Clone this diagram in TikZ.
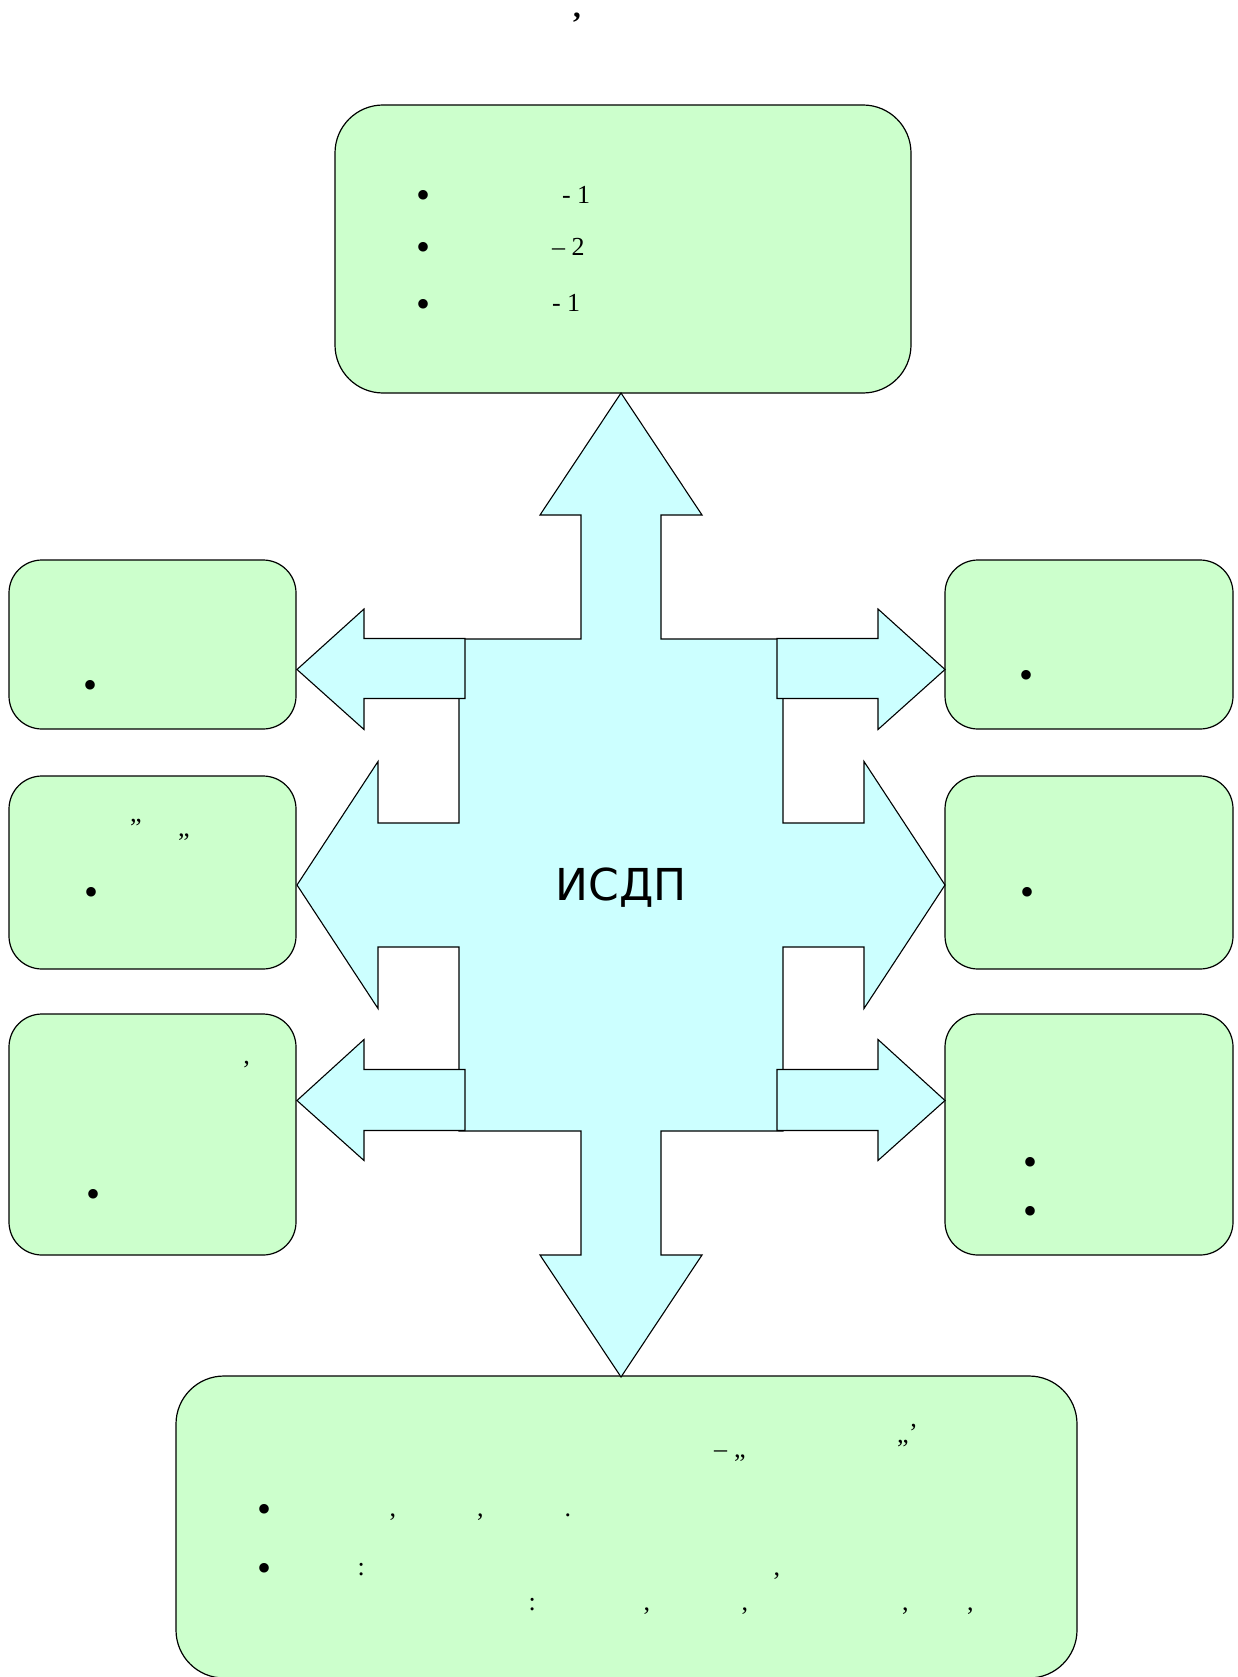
\documentclass[tikz,border=0pt]{standalone}
\usepackage{fontspec}
\setmainfont{Liberation Serif}
\newfontfamily\dejavu{DejaVu Sans}
\definecolor{boxgreen}{HTML}{CCFFCC}
\definecolor{arrowcyan}{HTML}{CCFFFF}
\begin{document}
\begin{tikzpicture}[x=1pt,y=-1pt,
  gbox/.style={draw=black,line width=1.2pt,fill=boxgreen,rectangle,inner sep=0pt},
  arrowshape/.style={draw=black,line width=1.1pt,fill=arrowcyan,line join=miter},
  txt/.style={inner sep=0pt,outer sep=0pt,anchor=base west,font=\fontsize{26}{30}\selectfont},
  bul/.style={inner sep=0pt,outer sep=0pt,anchor=base,font=\fontsize{40}{44}\selectfont}]
\useasboundingbox (0,0) rectangle (1237,1677);
\fill[white] (0,0) rectangle (1237,1677);

% boxes
\node[gbox,rounded corners=48pt,minimum width=576pt,minimum height=288pt] (top) at (623,249) {};
\node[gbox,rounded corners=33pt,minimum width=287pt,minimum height=169pt] (l1) at (152.5,644.5) {};
\node[gbox,rounded corners=33pt,minimum width=287pt,minimum height=193pt] (l2) at (152.5,872.5) {};
\node[gbox,rounded corners=33pt,minimum width=287pt,minimum height=241pt] (l3) at (152.5,1134.5) {};
\node[gbox,rounded corners=33pt,minimum width=288pt,minimum height=169pt] (r1) at (1089,644.5) {};
\node[gbox,rounded corners=33pt,minimum width=288pt,minimum height=193pt] (r2) at (1089,872.5) {};
\node[gbox,rounded corners=33pt,minimum width=288pt,minimum height=241pt] (r3) at (1089,1134.5) {};
\node[gbox,rounded corners=48pt,minimum width=901pt,minimum height=302pt] (bot) at (626.5,1527) {};

% central cross shape
\begin{scope}[shift={(621,885)}]
\draw[arrowshape] (0,-492) -- (81,-370) -- (40,-370) -- (40,-246) -- (162,-246)
  -- (162,-62) -- (243,-62) -- (243,-123.5) -- (324,0) -- (243,123.5) -- (243,62) -- (162,62)
  -- (162,246) -- (40,246) -- (40,370) -- (81,370) -- (0,492) -- (-81,370) -- (-40,370)
  -- (-40,246) -- (-162,246) -- (-162,62) -- (-243,62) -- (-243,123.5) -- (-324,0)
  -- (-243,-123.5) -- (-243,-62) -- (-162,-62) -- (-162,-246) -- (-40,-246) -- (-40,-370)
  -- (-81,-370) -- cycle;
% small arrows
\draw[arrowshape] (-156,-246.5) -- (-257,-246.5) -- (-257,-276) -- (-324,-215.5) -- (-257,-155.5) -- (-257,-186.5) -- (-156,-186.5) -- cycle;
\draw[arrowshape] (156,-246.5) -- (257,-246.5) -- (257,-276) -- (324,-215.5) -- (257,-155.5) -- (257,-186.5) -- (156,-186.5) -- cycle;
\draw[arrowshape] (-156,184.5) -- (-257,184.5) -- (-257,154.5) -- (-324,215.5) -- (-257,275.5) -- (-257,245.5) -- (-156,245.5) -- cycle;
\draw[arrowshape] (156,184.5) -- (257,184.5) -- (257,154.5) -- (324,215.5) -- (257,275.5) -- (257,245.5) -- (156,245.5) -- cycle;
\end{scope}
\node[inner sep=0pt,anchor=base,font=\dejavu\fontsize{44}{50}\selectfont] (isdp) at (621,900) {ИСДП};

% top comma
\node[inner sep=0pt,anchor=base west,font=\bfseries\fontsize{31}{34}\selectfont] (tc) at (573,18) {,};

% top box text
\node[bul] (tb1) at (423,209) {•};
\node[bul] (tb2) at (423,261) {•};
\node[bul] (tb3) at (423,317) {•};
\node[txt] (tt1) at (562,204) {- 1};
\node[txt] (tt2) at (552,256) {– 2};
\node[txt] (tt3) at (552,312) {- 1};

% left boxes
\node[bul] (l1b) at (91,698.5) {•};
\node[txt] (l2q1) at (130,836) {”};
\node[txt] (l2q2) at (178,836) {„};
\node[bul] (l2b) at (91.5,905) {•};
\node[txt] (l3a) at (242,1078) {’};
\node[bul] (l3b) at (94,1207) {•};

% right boxes
\node[bul] (r1b) at (1026.7,688) {•};
\node[bul] (r2b) at (1027.7,905) {•};
\node[bul] (r3b1) at (1030.3,1175.5) {•};
\node[bul] (r3b2) at (1030.3,1224.5) {•};

% bottom box
\node[txt] (bd) at (714,1457) {–};
\node[txt] (bq1) at (734,1457) {„};
\node[txt] (bq2) at (897,1457) {”};
\node[txt] (bq3) at (909,1441) {’};
\node[bul] (bb1) at (264.3,1522) {•};
\node[txt] (bc1) at (389.5,1516) {,};
\node[txt] (bc2) at (477,1516) {,};
\node[txt] (bp1) at (564.5,1516) {.};
\node[bul] (bb2) at (264.2,1581) {•};
\node[txt] (bk1) at (357.5,1575) {:};
\node[txt] (bc3) at (773.5,1575) {,};
\node[txt] (bk2) at (528.5,1610) {:};
\node[txt] (bc4) at (643.5,1610) {,};
\node[txt] (bc5) at (741.5,1610) {,};
\node[txt] (bc6) at (902,1610) {,};
\node[txt] (bc7) at (967,1610) {,};
\end{tikzpicture}
\end{document}
